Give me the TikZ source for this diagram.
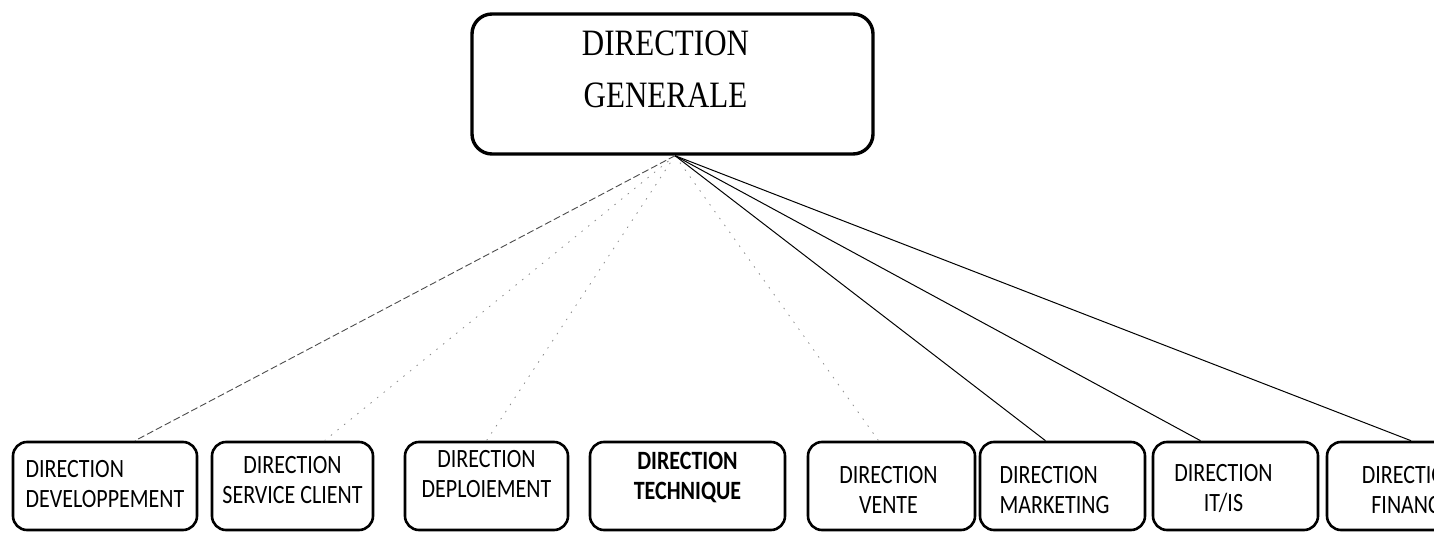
\documentclass[tikz,border=0pt]{standalone}
\usepackage{graphicx}
\usepackage{fontspec}
\setmainfont{Liberation Serif}
\newfontfamily\carlito{Carlito}
\usetikzlibrary{calc}

% stacked lines of a box label, slightly stretched vertically
\newcommand{\tallrows}[2]{\scalebox{1}[1.2]{\begin{tabular}{@{}#1@{}}#2\end{tabular}}}

\begin{document}
\begin{tikzpicture}[x=1pt,y=-1pt,
  headbox/.style={draw, line width=3.4pt, rounded corners=20pt,
    minimum width=401pt, minimum height=140pt, inner sep=0pt},
  unitbox/.style={draw, line width=2.6pt, rounded corners=14pt,
    minimum width=#1, minimum height=88pt, inner sep=0pt},
  headlab/.style={font=\fontsize{31}{43}\selectfont, inner sep=0pt},
  lab/.style={font=\carlito\fontsize{22}{25}\selectfont, inner sep=0pt},
  link/.style={line width=1pt},
  faded/.style={line width=0.9pt, black!70, dash pattern=on 7pt off 3pt},
  faint/.style={line width=0.8pt, black!45, dash pattern=on 1.5pt off 7pt}]

\useasboundingbox (0,0) rectangle (1434,534);
\clip (0,0) rectangle (1434,534);

% general management
\node[headbox, label={[headlab, xshift=-7pt, yshift=13pt]center:{\tallrows{c}{DIRECTION\\GENERALE}}}] (dg) at (672.5,84) {};
\coordinate (apex) at ([xshift=2.5pt]dg.south);

% departments
\node[unitbox=184pt, label={[lab]center:{\tallrows{l}{DIRECTION\\DEVELOPPEMENT}}}] (b1) at (105,486) {};
\node[unitbox=161pt, label={[lab, yshift=4pt]center:{\tallrows{c}{DIRECTION\\SERVICE CLIENT}}}] (b2) at (292.5,486) {};
\node[unitbox=163pt, label={[lab, yshift=10pt]center:{\tallrows{c}{DIRECTION\\DEPLOIEMENT}}}] (b3) at (486.5,486) {};
\node[unitbox=195pt, label={[lab, yshift=8pt]center:{\tallrows{c}{\bfseries DIRECTION\\\bfseries TECHNIQUE}}}] (b4) at (687.5,486) {};
\node[unitbox=167pt, label={[lab, xshift=-3pt, yshift=-6pt]center:{\tallrows{c}{DIRECTION\\VENTE}}}] (b5) at (891.5,486) {};
\node[unitbox=165pt, label={[lab, xshift=-8pt, yshift=-6pt]center:{\tallrows{l}{DIRECTION\\MARKETING}}}] (b6) at (1062.5,486) {};
\node[unitbox=165pt, label={[lab, xshift=-12pt, yshift=-4pt]center:{\tallrows{c}{DIRECTION\\IT/IS}}}] (b7) at (1235.5,486) {};
\node[unitbox=168pt, label={[lab, yshift=-6pt]center:{\tallrows{c}{DIRECTION\\FINANCE}}}] (b8) at (1411,486) {};

% reporting lines
\draw[faded] (apex) -- ([xshift=30pt]b1.north);
\draw[faint] (apex) -- ([xshift=32pt]b2.north);
\draw[faint] (apex) -- (b3.north);
\draw[faint] (apex) -- ([xshift=-13pt]b5.north);
\draw[link] (apex) -- ([xshift=-17pt]b6.north);
\draw[link] (apex) -- ([xshift=-35pt]b7.north);
\draw[link] (apex) -- (b8.north);
\end{tikzpicture}
\end{document}
